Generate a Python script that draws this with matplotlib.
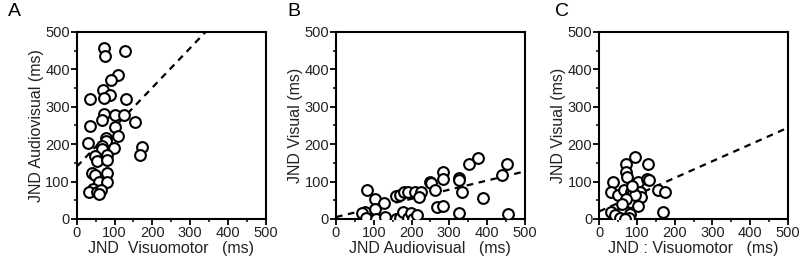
import matplotlib.pyplot as plt
import numpy as np

plt.rcParams.update({
    'font.family': 'Liberation Sans',
    'font.size': 10,
})

# Panel A: visuomotor vs audiovisual JND (ms)
a_x = [73, 76, 128, 110, 90, 70, 87, 73, 35, 131, 71, 102, 125, 66, 155, 35, 102,
       108, 77, 78, 29, 68, 66, 98, 172, 168, 81, 49, 53, 79, 41, 79, 49, 59, 79,
       44, 31, 53, 64, 59]
a_y = [456, 436, 449, 386, 371, 346, 332, 323, 321, 321, 281, 279, 279, 265, 259,
       248, 245, 221, 217, 208, 203, 194, 186, 189, 191, 172, 172, 168, 155, 157,
       124, 122, 117, 100, 99, 80, 72, 73, 78, 67]
a_fit_x = [0, 341]
a_fit_y = [140, 500]

# Panel B: audiovisual vs visual JND (ms)
b_x = [82, 104, 127, 76, 68, 104, 80, 106, 129, 158, 170, 179, 192, 208, 225, 219,
       160, 169, 177, 190, 199, 204, 214, 250, 252, 262, 283, 283, 267, 283, 326,
       325, 335, 326, 351, 375, 390, 440, 452, 456]
b_y = [78, 53, 43, 18, 15, 26, 2, 0, 4, 60, 65, 72, 72, 72, 72, 58, 0, 3, 19, 3, 16,
       0, 11, 100, 95, 78, 125, 108, 31, 34, 110, 104, 73, 17, 148, 164, 57, 117,
       148, 14]
b_fit_x = [0, 500]
b_fit_y = [5, 127]

# Panel C: visuomotor vs visual JND (ms)
c_x = [94, 72, 129, 72, 74, 37, 102, 127, 131, 31, 51, 67, 83, 109, 112, 156, 175,
       80, 81, 102, 62, 32, 43, 56, 81, 79, 169, 69, 90, 95, 70, 86, 60]
c_y = [166, 148, 148, 126, 111, 98, 99, 108, 104, 73, 65, 78, 73, 73, 58, 78, 73,
       58, 44, 35, 27, 19, 10, 2, 12, 3, 18, 0, 70, 65, 52, 88, 40]
c_fit_x = [0, 500]
c_fit_y = [20, 244]

panels = [
    ('A', a_x, a_y, a_fit_x, a_fit_y, 'JND  Visuomotor   (ms)', 'JND Audiovisual (ms)', 0.096, 0.010),
    ('B', b_x, b_y, b_fit_x, b_fit_y, 'JND Audiovisual   (ms)', 'JND Visual (ms)', 0.420, 0.359),
    ('C', c_x, c_y, c_fit_x, c_fit_y, 'JND : Visuomotor   (ms)', 'JND Visual (ms)', 0.749, 0.694),
]

fig = plt.figure(figsize=(8, 2.66), dpi=100)
text_color = '#222222'

for letter, x, y, fx, fy, xlabel, ylabel, left, letter_x in panels:
    ax = fig.add_axes([left, 0.177, 0.236, 0.703])
    ax.scatter(x, y, s=60, facecolors='white', edgecolors='black', linewidths=1.5, zorder=3)
    ax.plot(fx, fy, color='black', linestyle=(0, (3, 2.5)), linewidth=1.6, zorder=2)
    ax.set_xlim(0, 500)
    ax.set_ylim(0, 500)
    ax.set_xticks(np.arange(0, 501, 100))
    ax.set_yticks(np.arange(0, 501, 100))
    ax.set_xticks(np.arange(50, 500, 100), minor=True)
    ax.set_yticks(np.arange(50, 500, 100), minor=True)
    ax.tick_params(which='major', length=4, width=1.3, labelsize=10.5,
                   labelcolor=text_color, pad=1)
    ax.tick_params(which='minor', length=2.5, width=1.1)
    for sp in ax.spines.values():
        sp.set_linewidth(1.5)
    ax.set_xlabel(xlabel, fontsize=11.5, color=text_color, labelpad=1)
    ax.set_ylabel(ylabel, fontsize=11.5, color=text_color, labelpad=1)
    fig.text(letter_x, 0.955, letter, fontsize=14, color='black',
             ha='left', va='center')

fig.savefig('out.png', dpi=100)
